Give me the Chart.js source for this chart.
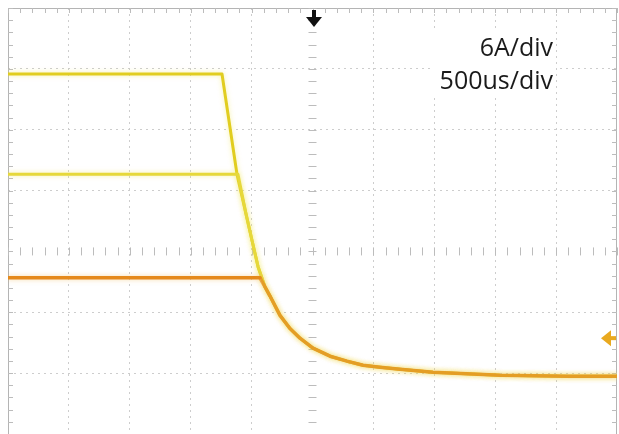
<!DOCTYPE html>
<html>
<head>
<meta charset="utf-8">
<script src="https://cdn.jsdelivr.net/npm/chart.js@4.4.1/dist/chart.umd.min.js"></script>
<style>
  html, body { margin: 0; padding: 0; background: #fff; }
  canvas { display: block; }
</style>
</head>
<body>
<canvas id="scope" width="619" height="434"></canvas>
<script>
// Time base: 500 us/div, 10 divisions, trigger at centre
const TIME_MIN_US = -2500;
const TIME_MAX_US = 2500;
const US_PER_DIV = 500;

// Vertical: 6 A/div, screen centre sits at 12.3 A
const AMP_PER_DIV = 6;
const AMP_CENTER = 12.3;
const AMP_MIN = -5.7;
const AMP_MAX = 36.3;

// Trigger marks
const TRIGGER_TIME_US = 0;
const TRIGGER_LEVEL_A = 3.75;

// Flat part + slew of each channel (before they meet the common decay)
const ch1Time = [-2500, -743, -620, -546, -497, -447];
const ch1Amps = [29.8, 29.8, 19.9, 16.0, 13.4, 10.8];

const ch2Time = [-2500, -612, -546, -497, -447];
const ch2Amps = [19.9, 19.9, 16.0, 13.4, 10.8];

const ch3Time = [-2500, -431];
const ch3Amps = [9.7, 9.7];

// Shared decay tail
const tailTime = [-390, -349, -267, -185, -103, 4, 144, 283, 415, 554, 719, 989, 1539, 2089, 2500];
const tailAmps = [8.8, 7.9, 6.0, 4.7, 3.75, 2.76, 1.97, 1.48, 1.08, 0.89, 0.69, 0.39, 0.1, 0, 0];

const labels = ['6A/div', '500us/div'];

function trace(t, a) {
    const pts = t.map((x, i) => ({ x: x, y: a[i] }));
    return pts.concat(tailTime.map((x, i) => ({ x: x, y: tailAmps[i] })));
}

const glowPlugin = {
    id: 'glow',
    beforeDatasetDraw(chart, args) {
        const ctx = chart.ctx;
        ctx.save();
        ctx.shadowColor = args.meta.label === 'CH3'
            ? 'rgba(240,180,80,0.5)' : 'rgba(240,230,90,0.55)';
        ctx.shadowBlur = 5;
    },
    afterDatasetDraw(chart) {
        chart.ctx.restore();
    }
};

const scopePlugin = {
    id: 'scope',
    beforeDatasetsDraw(chart) {
        const ctx = chart.ctx;
        const area = chart.chartArea;
        const xs = chart.scales.x;
        const ys = chart.scales.y;
        const cx = xs.getPixelForValue(0);
        const cy = ys.getPixelForValue(AMP_CENTER);
        ctx.save();
        ctx.strokeStyle = '#b4b4b4';
        ctx.lineWidth = 1;
        // frame
        ctx.beginPath();
        ctx.moveTo(area.left + 0.5, area.bottom + 5);
        ctx.lineTo(area.left + 0.5, area.top + 0.5);
        ctx.lineTo(area.right - 0.5, area.top + 0.5);
        ctx.lineTo(area.right - 0.5, area.bottom + 5);
        ctx.stroke();
        // minor ticks along the time axis
        ctx.strokeStyle = '#bcbcbc';
        ctx.beginPath();
        for (let t = TIME_MIN_US; t <= TIME_MAX_US; t += US_PER_DIV / 5) {
            const px = Math.round(xs.getPixelForValue(t)) + 0.5;
            ctx.moveTo(px, cy - 4); ctx.lineTo(px, cy + 4);
            ctx.moveTo(px, area.top); ctx.lineTo(px, area.top + 5);
        }
        // minor ticks along the amplitude axis
        for (let a = AMP_CENTER - 4 * AMP_PER_DIV; a <= AMP_MAX + 0.01; a += AMP_PER_DIV / 5) {
            const py = Math.round(ys.getPixelForValue(a)) + 0.5;
            ctx.moveTo(cx - 4, py); ctx.lineTo(cx + 4, py);
            ctx.moveTo(area.left, py); ctx.lineTo(area.left + 5, py);
            ctx.moveTo(area.right - 5, py); ctx.lineTo(area.right, py);
        }
        ctx.stroke();
        ctx.restore();
    },
    afterDatasetsDraw(chart) {
        const ctx = chart.ctx;
        const area = chart.chartArea;
        const xs = chart.scales.x;
        const ys = chart.scales.y;
        ctx.save();
        // trigger time arrow (black, top)
        const tx = xs.getPixelForValue(TRIGGER_TIME_US) + 1.5;
        ctx.fillStyle = '#111';
        ctx.fillRect(tx - 2, area.top + 2, 4, 10);
        ctx.beginPath();
        ctx.moveTo(tx - 8, area.top + 9);
        ctx.lineTo(tx + 8, area.top + 9);
        ctx.lineTo(tx, area.top + 19);
        ctx.closePath();
        ctx.fill();
        // trigger level arrow (right side)
        const ty = ys.getPixelForValue(TRIGGER_LEVEL_A);
        ctx.fillStyle = '#e9a91f';
        ctx.beginPath();
        ctx.moveTo(area.right - 16, ty);
        ctx.lineTo(area.right - 6, ty - 8);
        ctx.lineTo(area.right - 6, ty + 8);
        ctx.closePath();
        ctx.fill();
        ctx.fillRect(area.right - 7, ty - 2, 6, 4);
        // scale labels
        ctx.font = '25px "Open Sans", sans-serif';
        ctx.textAlign = 'right';
        ctx.textBaseline = 'alphabetic';
        ctx.fillStyle = '#fff';
        ctx.fillRect(432, 28, 124, 68);
        ctx.fillStyle = '#1a1a1a';
        ctx.fillText(labels[0], 553, 56);
        ctx.fillText(labels[1], 553, 89);
        ctx.restore();
    }
};

const ch3Flat = 'rgb(229,137,27)';
const ch3Tail = 'rgba(226,135,27,0.7)';

const ctx = document.getElementById('scope').getContext('2d');
new Chart(ctx, {
    type: 'line',
    data: {
        datasets: [
            {
                label: 'CH3', data: trace(ch3Time, ch3Amps), borderColor: ch3Flat, borderWidth: 3.5, order: 1,
                segment: { borderColor: (s) => s.p0DataIndex >= ch3Time.length - 1 ? ch3Tail : ch3Flat }
            },
            { label: 'CH2', data: trace(ch2Time, ch2Amps), borderColor: '#e6d83a', borderWidth: 3, order: 2 },
            { label: 'CH1', data: trace(ch1Time, ch1Amps), borderColor: '#e1cd1f', borderWidth: 3, order: 3 }
        ]
    },
    options: {
        responsive: false,
        animation: false,
        events: [],
        layout: { padding: { left: 8, top: 8, right: 2, bottom: 0 } },
        elements: {
            point: { radius: 0 },
            line: { tension: 0, fill: false, borderJoinStyle: 'round', borderCapStyle: 'round' }
        },
        plugins: {
            legend: { display: false },
            tooltip: { enabled: false },
            title: { display: false }
        },
        scales: {
            x: {
                type: 'linear',
                min: TIME_MIN_US,
                max: TIME_MAX_US,
                afterBuildTicks: (scale) => {
                    const ticks = [];
                    for (let t = TIME_MIN_US + US_PER_DIV; t < TIME_MAX_US; t += US_PER_DIV) {
                        if (t !== 0) ticks.push({ value: t });
                    }
                    scale.ticks = ticks;
                },
                ticks: { display: false },
                grid: { color: '#cdcdcd', lineWidth: 1, drawTicks: false },
                border: { display: false, dash: [2, 4] }
            },
            y: {
                type: 'linear',
                min: AMP_MIN,
                max: AMP_MAX,
                afterBuildTicks: (scale) => {
                    const ticks = [];
                    for (let k = -2; k <= 3; k++) {
                        if (k !== 0) ticks.push({ value: AMP_CENTER + k * AMP_PER_DIV });
                    }
                    scale.ticks = ticks;
                },
                ticks: { display: false },
                grid: { color: '#cdcdcd', lineWidth: 1, drawTicks: false },
                border: { display: false, dash: [2, 4] }
            }
        }
    },
    plugins: [scopePlugin, glowPlugin]
});
</script>
</body>
</html>
